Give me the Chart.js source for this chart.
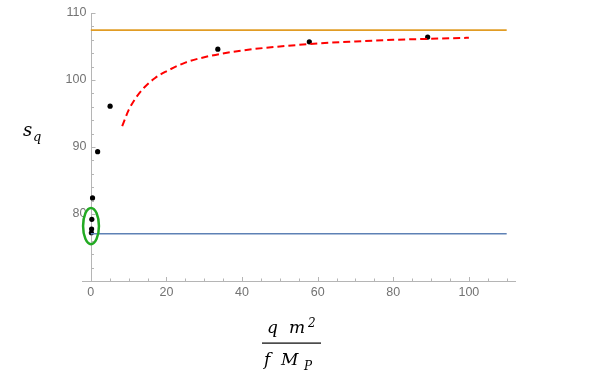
<!DOCTYPE html>
<html>
<head>
<meta charset="utf-8">
<script src="https://cdn.jsdelivr.net/npm/chart.js@4"></script>
<style>
  html, body { margin: 0; padding: 0; background: #fff; }
  #wrap { width: 589px; height: 381px; }
</style>
</head>
<body>
<div id="wrap"><canvas id="grafico"></canvas></div>
<script>
// puntos medidos
const puntosX = [0.15, 0.2, 0.26, 0.45, 1.8, 5.1, 33.6, 57.8, 89.1];
const puntosY = [77.2, 77.75, 79.2, 82.4, 89.3, 96.1, 104.6, 105.7, 106.4];

// curva de ajuste (roja discontinua)
const ajusteX = [8.3, 10, 12, 14, 17, 20, 25, 30, 40, 50, 60, 70, 80, 90, 100];
const ajusteY = [93.1, 95.5, 97.4, 98.8, 100.3, 101.3, 102.6, 103.4, 104.4, 105.0, 105.45, 105.75, 106.0, 106.15, 106.3];

// limites horizontales
const lineaX = [0, 110];
const limiteSuperior = [107.45, 107.45];
const limiteInferior = [77.05, 77.05];

// elipse verde alrededor de los puntos cerca de cero
const elipseCentro = [0.05, 78.2];
const elipseRadio = [2.1, 2.7];

// ticks
const ticksX = [0, 5, 10, 15, 20, 25, 30, 35, 40, 45, 50, 55, 60, 65, 70, 75, 80, 85, 90, 95, 100, 105, 110];
const ticksY = [70, 72, 74, 76, 78, 80, 82, 84, 86, 88, 90, 92, 94, 96, 98, 100, 102, 104, 106, 108, 110];

const gris = '#b5b5b5';
const grisTexto = '#737373';

const par = (xs, ys) => xs.map((x, i) => ({ x: x, y: ys[i] }));

const marcas = {
  id: 'marcas',
  afterDatasetsDraw(chart) {
    const { ctx, scales: { x, y } } = chart;
    // elipse
    const cx = x.getPixelForValue(elipseCentro[0]);
    const cy = y.getPixelForValue(elipseCentro[1]);
    const rx = Math.abs(x.getPixelForValue(elipseCentro[0] + elipseRadio[0]) - cx);
    const ry = Math.abs(y.getPixelForValue(elipseCentro[1] + elipseRadio[1]) - cy);
    ctx.save();
    ctx.strokeStyle = '#22aa22';
    ctx.lineWidth = 2.5;
    ctx.beginPath();
    ctx.ellipse(cx, cy, rx, ry, 0, 0, Math.PI * 2);
    ctx.stroke();
    ctx.restore();
  },
  beforeDatasetsDraw(chart) {
    const { ctx, chartArea, scales: { x, y } } = chart;
    ctx.save();
    ctx.strokeStyle = gris;
    ctx.lineWidth = 1;
    // eje y en x = 0
    const x0 = Math.round(x.getPixelForValue(0)) + 0.5;
    ctx.beginPath();
    ctx.moveTo(x0, chartArea.top);
    ctx.lineTo(x0, chartArea.bottom);
    ctx.stroke();
    // ticks hacia dentro
    const y0 = chartArea.bottom;
    ticksX.forEach(v => {
      const px = Math.round(x.getPixelForValue(v)) + 0.5;
      const largo = v % 20 === 0 ? 4 : 2.5;
      ctx.beginPath();
      ctx.moveTo(px, y0);
      ctx.lineTo(px, y0 - largo);
      ctx.stroke();
    });
    ticksY.forEach(v => {
      const py = Math.round(y.getPixelForValue(v)) + 0.5;
      const largo = v % 10 === 0 ? 4 : 2.5;
      ctx.beginPath();
      ctx.moveTo(x0, py);
      ctx.lineTo(x0 + largo, py);
      ctx.stroke();
    });
    ctx.restore();
  },
  afterDraw(chart) {
    const { ctx } = chart;
    ctx.save();
    // etiquetas de ejes
    ctx.fillStyle = '#000';
    ctx.textBaseline = 'alphabetic';
    ctx.textAlign = 'left';
    const serif = (t) => 'italic ' + t + 'px "DejaVu Serif", "Liberation Serif", serif';
    ctx.font = serif(18);
    ctx.fillText('s', 23, 136);
    ctx.font = serif(13);
    ctx.fillText('q', 33, 141);

    // fraccion
    ctx.font = serif(17);
    ctx.fillText('q', 267, 333);
    ctx.fillText('m', 289, 333);
    ctx.font = serif(12);
    ctx.fillText('2', 308, 327);
    ctx.fillRect(262, 342.5, 59, 1.2);
    ctx.font = serif(17);
    ctx.fillText('f', 264, 365);
    ctx.fillText('M', 281, 365);
    ctx.font = serif(12);
    ctx.fillText('P', 304, 370);
    ctx.restore();
  }
};

new Chart(document.getElementById('grafico'), {
  type: 'scatter',
  data: {
    datasets: [
      {
        label: 'límite inferior',
        type: 'line',
        data: par(lineaX, limiteInferior),
        borderColor: '#5e81b5',
        borderWidth: 1.6,
        pointRadius: 0,
        fill: false
      },
      {
        label: 'límite superior',
        type: 'line',
        data: par(lineaX, limiteSuperior),
        borderColor: '#e19c24',
        borderWidth: 1.8,
        pointRadius: 0,
        fill: false
      },
      {
        label: 'ajuste',
        type: 'line',
        data: par(ajusteX, ajusteY),
        borderColor: '#ff0000',
        borderWidth: 2,
        borderDash: [7, 4],
        cubicInterpolationMode: 'monotone',
        pointRadius: 0,
        fill: false
      },
      {
        label: 'datos',
        data: par(puntosX, puntosY),
        backgroundColor: '#000',
        borderColor: '#000',
        pointRadius: 2.6,
        pointBorderWidth: 0
      }
    ]
  },
  options: {
    responsive: true,
    maintainAspectRatio: false,
    animation: false,
    layout: { padding: { left: 82.5, right: 74, top: 13, bottom: 77 } },
    plugins: {
      legend: { display: false },
      tooltip: { enabled: false }
    },
    scales: {
      x: {
        type: 'linear',
        min: -2.2,
        max: 112.2,
        afterBuildTicks: s => { s.ticks = ticksX.map(v => ({ value: v })); },
        grid: { display: false, drawTicks: false },
        border: { display: true, color: gris, width: 1 },
        ticks: {
          autoSkip: false,
          maxRotation: 0,
          padding: 4,
          color: grisTexto,
          font: { family: '"Liberation Sans", Arial, sans-serif', size: 12.5 },
          callback: v => (v % 20 === 0 ? v : '')
        }
      },
      y: {
        type: 'linear',
        min: 70,
        max: 110,
        // las etiquetas quedan un poco a la izquierda del eje (dibujado en x = 0)
        position: { x: -1.15 },
        afterBuildTicks: s => { s.ticks = ticksY.map(v => ({ value: v })); },
        grid: { display: false, drawTicks: false },
        border: { display: false },
        ticks: {
          autoSkip: false,
          color: grisTexto,
          font: { family: '"Liberation Sans", Arial, sans-serif', size: 12.5 },
          callback: v => (v % 10 === 0 && v >= 80 ? v : '')
        }
      }
    }
  },
  plugins: [marcas]
});
</script>
</body>
</html>
